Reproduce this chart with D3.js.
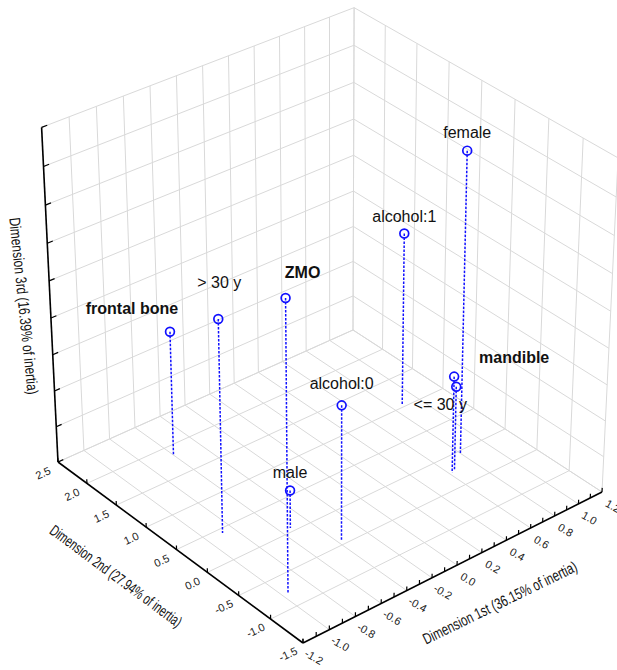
<!DOCTYPE html>
<html><head><meta charset="utf-8">
<script src="https://cdn.jsdelivr.net/npm/d3@7"></script>
<style>body{margin:0;background:#fff}svg{display:block}</style>
</head><body>
<svg id="chart" width="617" height="670"></svg>
<script>
// ---- data ----
const labels = ["frontal bone", "> 30 y", "ZMO", "male", "alcohol:0", "alcohol:1", "female", "mandible", "<= 30 y"];
const dim1Values = [-0.60, -0.88, -0.96, -0.53, -0.37, 0.88, 0.80, 0.62, 0.65];
const dim2Values = [1.84, 0.43, -0.78, 0.06, -0.43, 1.05, -0.04, -0.25, -0.23];
const dim3Values = [-0.31, 0.16, 0.56, -0.79, -0.26, -0.04, 0.65, -0.46, -0.53];
const boldLabels = ["frontal bone", "ZMO", "mandible"];
const dim1TickLabels = [-1.2, -1.0, -0.8, -0.6, -0.4, -0.2, 0.0, 0.2, 0.4, 0.6, 0.8, 1.0, 1.2];
const dim2TickLabels = [2.5, 2.0, 1.5, 1.0, 0.5, 0.0, -0.5, -1.0, -1.5];
const dim3GridValues = [-1.0, -0.8, -0.6, -0.4, -0.2, 0.0, 0.2, 0.4, 0.6, 0.8];
const dim1MinorTicks = d3.range(-12, 13).map(i => i / 10);
const axisTitles = {
  d1: "Dimension 1st (36.15% of inertia)",
  d2: "Dimension 2nd (27.94% of inertia)",
  d3: "Dimension 3rd (16.39% of inertia)"
};

// ---- layout (label offsets relative to point, in px) ----
const labelOffsets = [[-38,-18],[1,-31],[17,-20],[0,-12],[0,-16],[0,-11.5],[0,-12.5],[60,-14],[-16,23]];

// ---- scales to unit cube ----
const xs = d3.scaleLinear().domain([-1.2, 1.2]).range([0, 1]);
const ys = d3.scaleLinear().domain([-1.5, 2.5]).range([0, 1]);
const zs = d3.scaleLinear().domain([-1.0, 0.8]).range([0, 1]);
const [x0, x1] = xs.domain(), [y0, y1] = ys.domain(), [z0, z1] = zs.domain();

// perspective camera (projective matrix)
const M = {ax:336.9, bx:-241.13, cx:-20, dx:303,
           ay:-120.03, by:-150.19, cy:-364.6, dy:643,
           as:0.06295, bs:0.06669, cs:-0.06};
function proj(u, v, w) {
  const s = M.as*u + M.bs*v + M.cs*w + 1;
  return [(M.ax*u + M.bx*v + M.cx*w + M.dx)/s, (M.ay*u + M.by*v + M.cy*w + M.dy)/s];
}
const pt = (a, b, c) => proj(xs(a), ys(b), zs(c));

const svg = d3.select("#chart");
const line = d3.line();
const FONT = "Liberation Sans, Arial, Helvetica, sans-serif";

// ---- grid ----
const grid = svg.append("g").attr("stroke", "#d9d9d9").attr("stroke-width", 1).attr("fill", "none");
const gridSegs = [];
const dim1Grid = dim1TickLabels, dim2Grid = dim2TickLabels;
dim1Grid.forEach(t => gridSegs.push([pt(t, y0, z0), pt(t, y1, z0)]));
dim2Grid.forEach(t => gridSegs.push([pt(x0, t, z0), pt(x1, t, z0)]));
dim1Grid.forEach(t => gridSegs.push([pt(t, y1, z0), pt(t, y1, z1)]));
dim3GridValues.forEach(t => gridSegs.push([pt(x0, y1, t), pt(x1, y1, t)]));
dim2Grid.forEach(t => gridSegs.push([pt(x1, t, z0), pt(x1, t, z1)]));
dim3GridValues.forEach(t => gridSegs.push([pt(x1, y0, t), pt(x1, y1, t)]));
grid.selectAll("path").data(gridSegs).join("path").attr("d", d => line(d));

// ---- axes ----
const axes = svg.append("g").attr("stroke", "#000").attr("fill", "none");
axes.append("path").attr("stroke-width", 1.6).attr("d", line([pt(x0, y1, z0), pt(x0, y1, z1)]));
axes.append("path").attr("stroke-width", 1.6).attr("d", line([pt(x0, y1, z0), pt(x0, y0, z0)]));
axes.append("path").attr("stroke-width", 1.6).attr("d", line([pt(x0, y0, z0), pt(x1, y0, z0)]));
const tickW = 0.013, tickU = 0.017;
axes.selectAll(".t3").data(dim3GridValues).join("path").attr("class","t3").attr("stroke-width",1.2)
  .attr("d", t => line([pt(x0, y1, t), proj(xs(x0) + tickU, 1, zs(t))]));
axes.selectAll(".t2").data(dim2TickLabels).join("path").attr("class","t2").attr("stroke-width",1.2)
  .attr("d", t => line([pt(x0, t, z0), proj(0, ys(t), tickW)]));
axes.selectAll(".t1").data(dim1MinorTicks).join("path").attr("class","t1").attr("stroke-width",1.2)
  .attr("d", t => line([pt(t, y0, z0), proj(xs(t), 0, tickW)]));

const fmt = v => d3.format(".1f")(v).replace("\u2212", "-");

// tick labels
const tl = svg.append("g").attr("font-family", FONT).attr("font-size", 11).attr("fill", "#222");
tl.selectAll(".l2").data(dim2TickLabels).join("text").attr("class","l2")
  .attr("transform", t => { const p = pt(x0, t, z0); return `translate(${p[0]-15},${p[1]+11}) rotate(-25)`; })
  .attr("text-anchor", "middle").attr("dominant-baseline", "central")
  .text(fmt);
tl.selectAll(".l1").data(dim1TickLabels).join("text").attr("class","l1")
  .attr("transform", t => { const p = pt(t, y0, z0); return `translate(${p[0]+11},${p[1]+14}) rotate(30)`; })
  .attr("text-anchor", "middle").attr("dominant-baseline", "central")
  .text(fmt);

// axis titles (condensed horizontally via scale)
const titleSpecs = [
  {text: axisTitles.d1, x: 500, y: 603, rot: -26, len: 170},
  {text: axisTitles.d2, x: 116, y: 576, rot: 36.5, len: 160},
  {text: axisTitles.d3, x: 24, y: 306, rot: 84, len: 178}
];
const titles = svg.append("g").attr("font-family", FONT).attr("font-size", 15.5).attr("fill", "#111");
titleSpecs.forEach(s => {
  const t = titles.append("text").attr("text-anchor", "middle").attr("dominant-baseline", "central").text(s.text);
  const w = t.node().getComputedTextLength();
  t.attr("transform", `translate(${s.x},${s.y}) rotate(${s.rot}) scale(${s.len / w},1)`);
});

// ---- points ----
const pts = labels.map((name, i) => ({
  name, top: pt(dim1Values[i], dim2Values[i], dim3Values[i]),
  base: pt(dim1Values[i], dim2Values[i], z0), off: labelOffsets[i]
}));
const marks = svg.append("g");
marks.selectAll(".drop").data(pts).join("path").attr("class","drop")
  .attr("d", d => line([d.top, d.base]))
  .attr("stroke", "#1010ff").attr("stroke-width", 1.5).attr("stroke-dasharray", "2.5,1.5").attr("fill", "none");
marks.selectAll("circle").data(pts).join("circle")
  .attr("cx", d => d.top[0]).attr("cy", d => d.top[1]).attr("r", 4.4)
  .attr("fill", "none").attr("stroke", "#1010ff").attr("stroke-width", 1.7);
marks.selectAll(".lab").data(pts).join("text").attr("class","lab")
  .attr("x", d => d.top[0] + d.off[0]).attr("y", d => d.top[1] + d.off[1])
  .attr("text-anchor", "middle").attr("font-family", FONT).attr("font-size", 16)
  .attr("font-weight", d => boldLabels.includes(d.name) ? "bold" : "normal")
  .attr("fill", "#111").text(d => d.name);
</script>
</body></html>
